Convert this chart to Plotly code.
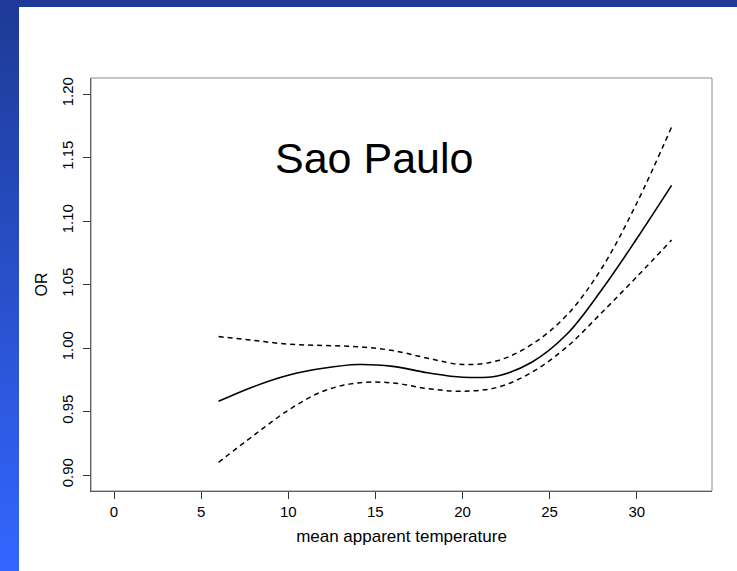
import plotly.graph_objects as go

# ---- data ----
temp = [6, 8, 10, 12, 14, 16, 18, 20, 22, 24, 26, 28, 30, 32]
or_fit = [0.958, 0.9695, 0.9785, 0.984, 0.987, 0.9855, 0.9805, 0.977, 0.978, 0.989, 1.011, 1.046, 1.086, 1.128]
or_upper = [1.009, 1.006, 1.003, 1.002, 1.001, 0.998, 0.992, 0.987, 0.990, 1.003, 1.026, 1.063, 1.114, 1.174]
or_lower = [0.910, 0.931, 0.951, 0.966, 0.9725, 0.9725, 0.968, 0.966, 0.969, 0.981, 1.001, 1.028, 1.056, 1.085]
x_ticks = [0, 5, 10, 15, 20, 25, 30]
y_ticks = [0.90, 0.95, 1.00, 1.05, 1.10, 1.15, 1.20]
title_text = "Sao Paulo"

W, H = 737, 571
ML, MR, MT, MB = 91, 25, 78, 80
PW, PH = W - ML - MR, H - MT - MB
FONT = "Liberation Sans, Arial, Helvetica, sans-serif"

fig = go.Figure()
fig.add_trace(go.Scatter(x=temp, y=or_upper, mode="lines",
                         line=dict(color="black", width=1.5, dash="5px,4px", shape="spline", smoothing=1.0),
                         showlegend=False, hoverinfo="skip"))
fig.add_trace(go.Scatter(x=temp, y=or_fit, mode="lines",
                         line=dict(color="black", width=1.6, shape="spline", smoothing=1.0),
                         showlegend=False))
fig.add_trace(go.Scatter(x=temp, y=or_lower, mode="lines",
                         line=dict(color="black", width=1.5, dash="5px,4px", shape="spline", smoothing=1.0),
                         showlegend=False, hoverinfo="skip"))


def px_x(p):
    return (p - ML) / PW


def px_y(p):
    return 1 - (p - MT) / PH


def lerp_color(c1, c2, t):
    r = round(c1[0] + (c2[0] - c1[0]) * t)
    g = round(c1[1] + (c2[1] - c1[1]) * t)
    b = round(c1[2] + (c2[2] - c1[2]) * t)
    return f"rgb({r},{g},{b})"


shapes = []
top_c = (30, 58, 150)
bot_c = (51, 102, 255)
n = 48
for i in range(n):
    y0 = H * i / n
    y1 = min(H * (i + 1) / n + 3, H)
    shapes.append(dict(type="rect", xref="paper", yref="paper",
                       x0=px_x(-2), x1=px_x(19), y0=px_y(y1), y1=px_y(y0),
                       fillcolor=lerp_color(top_c, bot_c, (i + 0.5) / n), line=dict(width=0), layer="below"))
shapes.append(dict(type="rect", xref="paper", yref="paper",
                   x0=px_x(-2), x1=px_x(W + 2), y0=px_y(7), y1=px_y(-2),
                   fillcolor="rgb(30,58,150)", line=dict(width=0), layer="below"))
# plot box
shapes.append(dict(type="rect", xref="paper", yref="paper", x0=0, x1=1, y0=0, y1=1,
                   line=dict(color="#8a8a8a", width=1), fillcolor="rgba(0,0,0,0)"))

fig.update_layout(
    width=W, height=H,
    margin=dict(l=ML, r=MR, t=MT, b=MB),
    paper_bgcolor="white", plot_bgcolor="white",
    font=dict(family=FONT, size=15, color="black"),
    shapes=shapes,
    annotations=[dict(text=title_text, x=14.9, y=1.150, xref="x", yref="y",
                      showarrow=False, xanchor="center", yanchor="middle",
                      font=dict(size=43, family=FONT, color="black"))],
    xaxis=dict(range=[-1.32, 34.32], tickvals=x_ticks, ticktext=[str(v) for v in x_ticks],
               showgrid=False, zeroline=False, showline=True, linecolor="#333", linewidth=1,
               ticks="outside", ticklen=7, tickcolor="#333", tickwidth=1,
               tickfont=dict(size=15), title=dict(text="mean apparent temperature", standoff=11,
                                                  font=dict(size=17))),
    yaxis=dict(range=[0.8874, 1.2126], tickvals=y_ticks, ticktext=[f"{v:.2f}" for v in y_ticks],
               showgrid=False, zeroline=False, showline=True, linecolor="#333", linewidth=1,
               ticks="outside", ticklen=7, tickcolor="#333", tickwidth=1, tickangle=-90,
               ticklabelstandoff=4,
               tickfont=dict(size=15), title=dict(text="OR", standoff=7, font=dict(size=16))),
)

fig.write_html("out.html")
